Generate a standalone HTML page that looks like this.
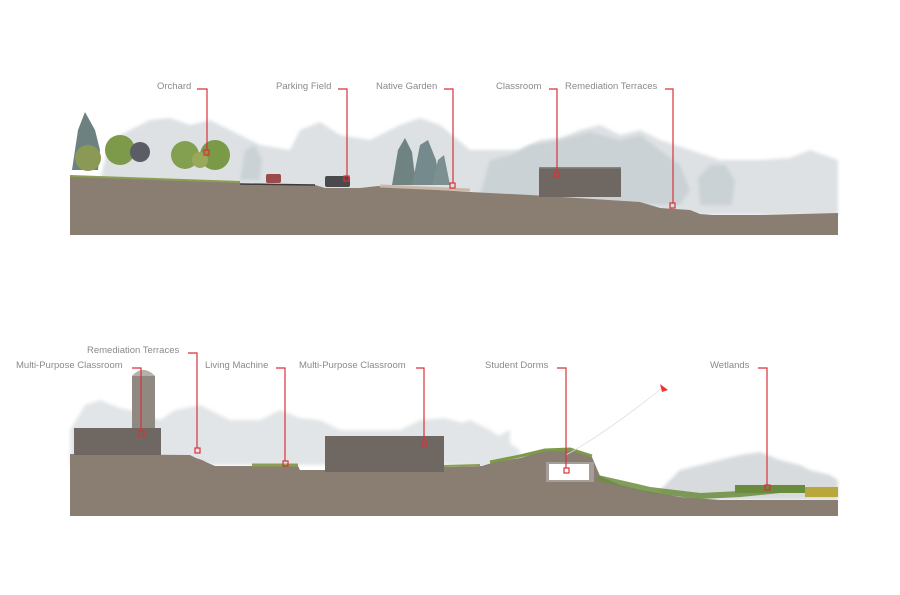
<!DOCTYPE html>
<html><head><meta charset="utf-8"><style>
html,body{margin:0;padding:0;background:#fff;}
svg{display:block}
text{font-family:"Liberation Sans",sans-serif;font-size:9.5px;fill:#8a8a8a;}
</style></head><body>
<svg width="900" height="595" viewBox="0 0 900 595">
<defs>
<filter id="b" x="-10%" y="-10%" width="120%" height="120%"><feGaussianBlur stdDeviation="1.5"/></filter>
</defs>
<g fill="#dde1e3" filter="url(#b)">
<path d="M100 180 L110 140 L130 130 L150 120 L170 118 L190 125 L210 120 L240 135 L260 145 L290 150 L300 130 L320 122 L340 135 L370 140 L400 125 L420 118 L440 125 L470 150 L490 150 L520 150 L540 140 L560 138 L580 130 L600 125 L620 135 L640 130 L660 140 L690 150 L720 160 L760 160 L790 158 L810 150 L838 160 L838 215 L100 215Z"/>
</g>
<g fill="#cbd2d6" filter="url(#b)">
<path d="M480 195 L490 160 L510 155 L530 145 L560 140 L590 132 L620 140 L640 135 L660 150 L680 165 L690 190 L680 205 L480 205Z"/>
<path d="M700 205 L698 178 L710 165 L725 165 L735 180 L732 205Z"/>
<path d="M240 180 L245 150 L255 145 L262 160 L260 180Z"/>
</g>
<g>
<path d="M72 170 L78 130 L85 112 L95 130 L100 150 L98 170Z" fill="#6d8280"/>
<circle cx="88" cy="158" r="13" fill="#8a9a55"/>
<circle cx="120" cy="150" r="15" fill="#7d9a4a"/>
<circle cx="140" cy="152" r="10" fill="#5a5d66"/>
<circle cx="185" cy="155" r="14" fill="#82a050"/>
<circle cx="215" cy="155" r="15" fill="#7a9a48"/>
<circle cx="200" cy="160" r="8" fill="#9aa85a"/>
<path d="M392 185 L398 150 L405 138 L412 152 L416 185Z" fill="#6f8482"/>
<path d="M412 185 L420 145 L428 140 L436 160 L440 185Z" fill="#758a8c"/>
<path d="M432 185 L438 160 L444 155 L450 185Z" fill="#7c9092"/>
</g>
<path d="M70 176 L240 182 L240 184 L315 185 L325 188 L360 188 L378 186 L470 192 L530 195 L640 202 L650 205 L660 208 L690 210 L700 214 L713 215 L760 215 L838 213 L838 235 L70 235Z" fill="#8a7e73"/>
<path d="M70 176 L240 182" stroke="#8aa050" stroke-width="2" fill="none"/>
<path d="M240 184 L315 185" stroke="#3e3a38" stroke-width="1.5" fill="none"/>
<path d="M380 186 L470 190" stroke="#c9b8a8" stroke-width="3" fill="none"/>
<rect x="539" y="167" width="82" height="30" fill="#6f6862"/>
<rect x="539" y="167" width="82" height="1.5" fill="#8a847e"/>
<rect x="266" y="174" width="15" height="9" fill="#9b4a4a" rx="2"/>
<rect x="325" y="176" width="25" height="11" fill="#4a4a4c" rx="2"/>
<g fill="none" stroke="#d8313a" stroke-width="1.2">
<path d="M197 89 H207 V150"/><rect x="204" y="150" width="5" height="5"/>
<path d="M338 89 H347 V176"/><rect x="344" y="176" width="5" height="5"/>
<path d="M444 89 H453 V183"/><rect x="450" y="183" width="5" height="5"/>
<path d="M549 89 H557 V172"/><rect x="554" y="172" width="5" height="5"/>
<path d="M665 89 H673 V203"/><rect x="670" y="203" width="5" height="5"/>
</g>
<text x="157" y="89">Orchard</text>
<text x="276" y="89">Parking Field</text>
<text x="376" y="89">Native Garden</text>
<text x="496" y="89">Classroom</text>
<text x="565" y="89">Remediation Terraces</text>

<g fill="#e2e5e7" filter="url(#b)">
<path d="M70 430 L85 405 L100 400 L120 408 L130 410 L160 420 L175 410 L200 405 L230 420 L260 420 L280 410 L300 418 L320 420 L340 430 L400 430 L420 420 L445 418 L470 425 L490 440 L510 430 L510 465 L70 465Z"/>
<path d="M450 465 L455 425 L470 420 L490 430 L520 450 L520 470Z"/>
</g>
<g fill="#d7dbde" filter="url(#b)">
<path d="M660 490 L680 470 L700 465 L720 460 L740 455 L760 452 L780 460 L800 465 L810 470 L830 475 L838 480 L838 500 L660 500Z"/>
</g>
<path d="M70 454 L190 455 L196 458 L202 460 L208 463 L215 466 L252 466 L298 466 L300 470 L325 470 L325 472 L444 472 L444 467 L482 466 L495 462 L520 458 L540 452 L555 450 L575 450 L592 457 L600 476 L620 485 L640 490 L680 497 L720 500 L838 500 L838 516 L70 516Z" fill="#8a7e73"/>
<path d="M252 465 L298 465" stroke="#8aa050" stroke-width="3"/>
<path d="M444 466 L480 465" stroke="#8aa050" stroke-width="2"/>
<path d="M490 462 L520 456 L545 450 L570 449 L592 456" stroke="#7c9a48" stroke-width="3" fill="none"/>
<path d="M598 478 L620 483 L650 490 L700 496 L740 494 L780 490 L838 490" stroke="#6c8c40" stroke-width="6" fill="none" opacity=".85"/>
<rect x="735" y="485" width="70" height="8" fill="#6a8a3e"/>
<rect x="805" y="487" width="33" height="10" fill="#b8a83a"/>
<rect x="546" y="462" width="48" height="20" fill="#a59d97"/>
<rect x="549" y="464" width="40" height="16" fill="#fff"/>
<rect x="74" y="428" width="87" height="27" fill="#6f6862"/>
<path d="M132 428 V376 Q143 364 155 376 V428Z" fill="#8f8982"/>
<path d="M132 376 Q143 364 155 376Z" fill="#b5b0aa"/>
<rect x="325" y="436" width="119" height="36" fill="#6f6862"/>
<path d="M566 455 Q610 430 662 388" stroke="#ddd" stroke-width="0.8" fill="none"/>
<path d="M660 384 L668 390 L662 392Z" fill="#e33"/>
<g fill="none" stroke="#d8313a" stroke-width="1.2">
<path d="M188 353 H197 V448"/><rect x="195" y="448" width="5" height="5"/>
<path d="M132 368 H141 V431"/><rect x="139" y="431" width="5" height="5"/>
<path d="M276 368 H285 V461"/><rect x="283" y="461" width="5" height="5"/>
<path d="M416 368 H424 V441"/><rect x="422" y="441" width="5" height="5"/>
<path d="M557 368 H566 V468"/><rect x="564" y="468" width="5" height="5"/>
<path d="M758 368 H767 V485"/><rect x="765" y="485" width="5" height="5"/>
</g>
<text x="87" y="353">Remediation Terraces</text>
<text x="16" y="368">Multi-Purpose Classroom</text>
<text x="205" y="368">Living Machine</text>
<text x="299" y="368">Multi-Purpose Classroom</text>
<text x="485" y="368">Student Dorms</text>
<text x="710" y="368">Wetlands</text>
</svg>
</body></html>
